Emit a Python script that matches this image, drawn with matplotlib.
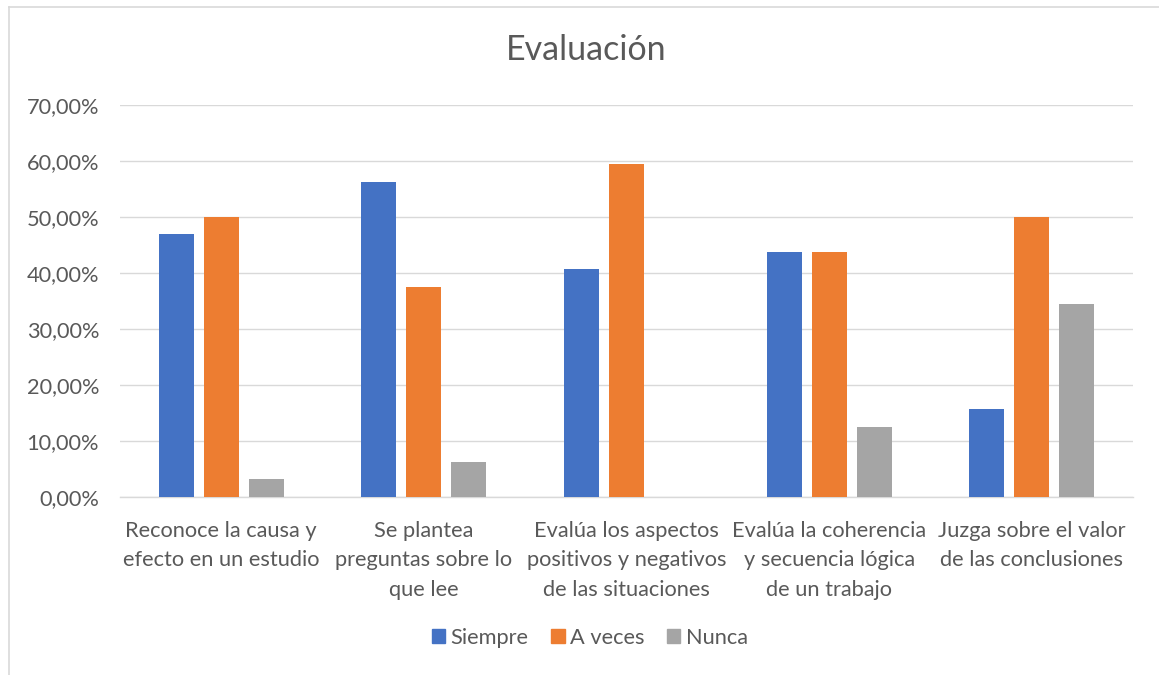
import matplotlib
matplotlib.use("Agg")
import matplotlib.pyplot as plt
import numpy as np
from matplotlib.ticker import FuncFormatter
from matplotlib.lines import Line2D

categories = ["Reconoce la causa y\nefecto en un estudio",
              "Se plantea\npreguntas sobre lo\nque lee",
              "Evalúa los aspectos\npositivos y negativos\nde las situaciones",
              "Evalúa la coherencia\ny secuencia lógica\nde un trabajo",
              "Juzga sobre el valor\nde las conclusiones"]
siempre = [46.88, 56.25, 40.63, 43.75, 15.63]
a_veces = [50.00, 37.50, 59.38, 43.75, 50.00]
nunca = [3.13, 6.25, 0.00, 12.50, 34.38]
series_names = ["Siempre", "A veces", "Nunca"]
colors = ["#4472C4", "#ED7D31", "#A5A5A5"]

plt.rcParams['font.family'] = ['Lato', 'DejaVu Sans']
txt = "#595959"
fs = 15.7

fig = plt.figure(figsize=(11.59, 6.75), dpi=100)
ax = fig.add_axes([120/1159, 1-497/675, 1013/1159, 392/675])

x = np.arange(len(categories))
w = 0.173
sp = 0.222
for i, (vals, c, n) in enumerate(zip([siempre, a_veces, nunca], colors, series_names)):
    ax.bar(x + (i-1)*sp, vals, width=w, color=c, label=n, zorder=3)

ax.set_xlim(-0.5, len(categories)-0.5)
ax.set_ylim(0, 70)
ax.set_yticks(np.arange(0, 71, 10))
ax.yaxis.set_major_formatter(FuncFormatter(lambda v, p: f"{v:.2f}".replace(".", ",") + "%"))
ax.grid(axis='y', color="#D9D9D9", linewidth=1, zorder=0)
for s in ['top', 'right', 'left']:
    ax.spines[s].set_visible(False)
ax.spines['bottom'].set_color("#D9D9D9")
ax.spines['bottom'].set_linewidth(1)
ax.tick_params(axis='both', length=0, colors=txt, labelsize=fs)
ax.tick_params(axis='y', pad=15)
ax.tick_params(axis='x', pad=17)
ax.set_xticks(x)
ax.set_xticklabels(categories, linespacing=1.6)
for lbl in ax.get_xticklabels():
    lbl.set_color(txt)
    lbl.set_ha('center')

fig.text(586/1159, 1-50/675, "Evaluación", ha='center', va='center', fontsize=24.5, color=txt)

handles = [plt.Rectangle((0, 0), 1, 1, color=c) for c in colors]
fig.legend(handles, series_names, loc='center', bbox_to_anchor=(590/1159, 1-638/675),
           ncol=3, frameon=False, fontsize=fs, labelcolor=txt,
           handlelength=0.6, handleheight=0.6, handletextpad=0.25, columnspacing=1.05)

# chart border (left and top visible)
fig.add_artist(Line2D([9/1159, 9/1159], [0, 1-7/675], transform=fig.transFigure, color="#D9D9D9", lw=1.2))
fig.add_artist(Line2D([9/1159, 1], [1-7/675, 1-7/675], transform=fig.transFigure, color="#D9D9D9", lw=1.2))

fig.savefig("out.png", dpi=100)
